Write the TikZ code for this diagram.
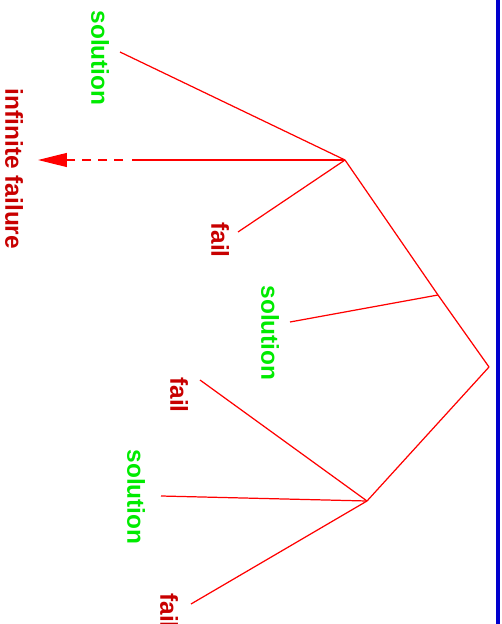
\documentclass[tikz,border=0pt]{standalone}
\usepackage{fontspec}
\setmainfont{Liberation Sans}
\usetikzlibrary{arrows.meta}
\definecolor{solgreen}{RGB}{0,235,0}
\definecolor{faildark}{RGB}{200,0,0}
\definecolor{frameblue}{RGB}{0,0,205}
\tikzset{
    br/.style={draw=red, line width=0.7pt},
    lbl/.style={rotate=-90, inner sep=0pt, font=\fontsize{13.9}{16}\selectfont\bfseries},
    sol/.style={lbl, text=solgreen},
    fl/.style={lbl, text=faildark},
    inf/.style={br, dash pattern=on 0.18cm off 0.14cm, -{Triangle[length=0.58cm, width=0.28cm]}}
}

\begin{document}
\begin{tikzpicture}[x=0.02cm, y=-0.02cm]
    \useasboundingbox (0,0) rectangle (501,624);
    \draw[frameblue, line width=2.3pt] (498,0) -- (498,624);

    % tree points
    \coordinate (root) at (489,367);
    \coordinate (nA) at (345,160);
    \coordinate (nM) at (438,295);
    \coordinate (nB) at (367,501);

    % leaf ends
    \coordinate (sA) at (120,52);
    \coordinate (fA) at (238,232);
    \coordinate (iS) at (132,160);
    \coordinate (iD) at (123,160);
    \coordinate (iT) at (38,160);
    \coordinate (sM) at (290,322);
    \coordinate (fB1) at (200,380);
    \coordinate (sB) at (161,496);
    \coordinate (fB2) at (191,604);

    % labels
    \node[sol] (solA) at (100,58) {solution};
    \node[fl] (infl) at (14,169) {infinite failure};
    \node[fl] (failA) at (220,240) {fail};
    \node[sol] (solM) at (270,333) {solution};
    \node[fl] (failB1) at (179,395) {fail};
    \node[sol] (solB) at (136,497) {solution};
    \node[fl] (failB2) at (169,611) {fail};

    \draw[br] (root) -- (nM) -- (nA);
    \draw[br] (root) -- (nB);
    \draw[br] (nM) -- (sM);
    \draw[br] (nA) -- (sA);
    \draw[br] (nA) -- (fA);
    \draw[br] (nA) -- (iS);
    \draw[inf] (iD) -- (iT);
    \draw[br] (nB) -- (fB1);
    \draw[br] (nB) -- (sB);
    \draw[br] (nB) -- (fB2);
\end{tikzpicture}
\end{document}
